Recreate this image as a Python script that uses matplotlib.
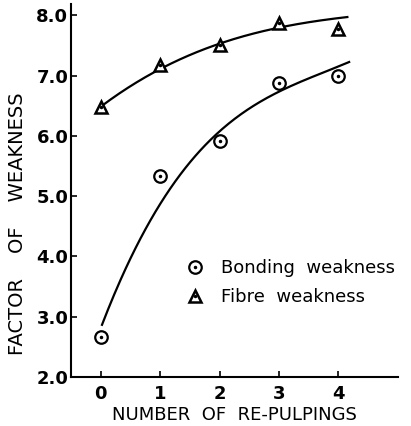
import numpy as np
import matplotlib.pyplot as plt
from matplotlib.legend_handler import HandlerTuple

# repulpings
repulpings = [0, 1, 2, 3, 4]
bonding = [2.66, 5.33, 5.91, 6.88, 6.99]
fibre = [6.48, 7.17, 7.51, 7.87, 7.77]

# points
bond_curve_x = [0.02, 0.24, 0.45, 0.74, 1.03, 1.38, 1.55, 2.0, 2.96, 4.18]
bond_curve_y = [2.78, 3.44, 3.94, 4.49, 4.89, 5.38, 5.60, 6.02, 6.78, 7.21]
fib_curve_x = [0.02, 0.45, 1.03, 1.58, 1.97, 2.42, 2.96, 3.55, 4.15]
fib_curve_y = [6.48, 6.84, 7.09, 7.37, 7.54, 7.64, 7.80, 7.89, 7.97]

yticks = [2, 3, 4, 5, 6, 7, 8]
ytick_labels = ['2.0', '3.0', '4.0', '5.0', '6.0', '7.0', '8.0']

plt.rcParams['font.family'] = 'DejaVu Sans'

fig = plt.figure(figsize=(4.11, 4.26), dpi=100)
ax = fig.add_axes([0.173, 0.115, 0.795, 0.876])

# smooth curves from the traced points
bc = np.polyfit(bond_curve_x, bond_curve_y, 3)
xs = np.linspace(bond_curve_x[0], bond_curve_x[-1], 200)
ax.plot(xs, np.polyval(bc, xs), color='black', lw=1.6, zorder=2)
fc = np.polyfit(fib_curve_x, fib_curve_y, 3)
xs = np.linspace(fib_curve_x[0], fib_curve_x[-1], 200)
ax.plot(xs, np.polyval(fc, xs), color='black', lw=1.6, zorder=2)

c1, = ax.plot(repulpings, bonding, 'o', ms=9, mfc='white', mec='black', mew=1.6, zorder=3)
c2, = ax.plot(repulpings, bonding, '.', ms=3, color='black', zorder=4)
t1, = ax.plot(repulpings, fibre, '^', ms=9, mfc='white', mec='black', mew=1.8, zorder=3)
t2, = ax.plot(repulpings, fibre, '.', ms=3, color='black', zorder=4)

ax.set_xlim(-0.5, 5.0)
ax.set_ylim(2.0, 8.19)
ax.set_xticks(repulpings)
ax.set_yticks(yticks)
ax.set_yticklabels(ytick_labels)
ax.spines['top'].set_visible(False)
ax.spines['right'].set_visible(False)
ax.spines['left'].set_linewidth(1.5)
ax.spines['bottom'].set_linewidth(1.5)
ax.tick_params(axis='both', direction='in', length=4, width=1.2, labelsize=13)
ax.tick_params(axis='y', pad=2)
ax.tick_params(axis='x', pad=6)
for lab in ax.get_xticklabels() + ax.get_yticklabels():
    lab.set_fontweight('bold')

ax.set_xlabel('NUMBER  OF  RE-PULPINGS', fontsize=13, labelpad=2)
ax.set_ylabel('FACTOR    OF    WEAKNESS', fontsize=14)
ax.yaxis.set_label_coords(-0.135, 0.41)

ax.legend([(c1, c2), (t1, t2)], ['Bonding  weakness', 'Fibre  weakness'],
          handler_map={tuple: HandlerTuple(ndivide=1, pad=0)},
          loc='upper left', bbox_to_anchor=(0.303, 0.36), frameon=False,
          fontsize=13, handlelength=1.0, handletextpad=0.9, labelspacing=0.62)

fig.savefig('out.png', dpi=100)
